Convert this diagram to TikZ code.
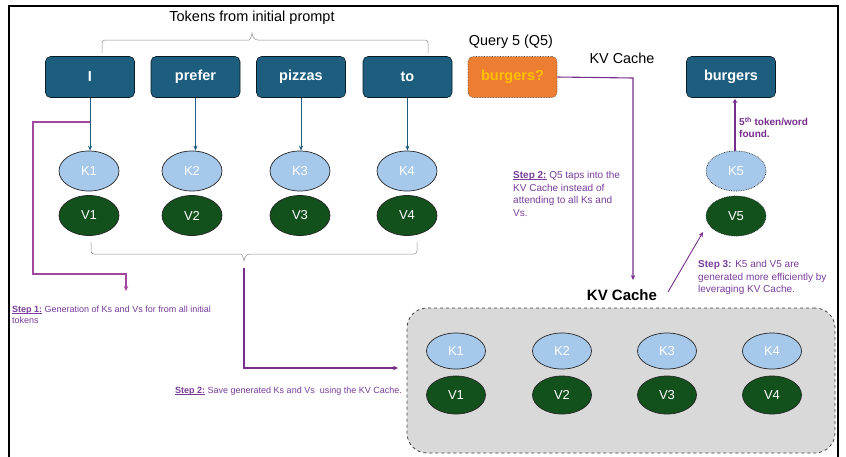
\documentclass[tikz,border=0pt]{standalone}
\usepackage{fontspec}
\setmainfont{Liberation Sans}
\usetikzlibrary{arrows.meta,shapes.geometric}
\definecolor{tokblue}{RGB}{29,94,126}
\definecolor{kblue}{RGB}{166,200,234}
\definecolor{vgreen}{RGB}{18,80,28}
\definecolor{qorange}{RGB}{237,125,49}
\definecolor{qyellow}{RGB}{255,192,0}
\definecolor{stepline}{RGB}{160,72,158}
\definecolor{flowpurple}{RGB}{118,46,140}
\definecolor{steptext}{RGB}{120,60,155}
\definecolor{cachegray}{RGB}{217,217,217}
\tikzset{
  token/.style={rectangle, rounded corners=5pt, fill=tokblue, draw=black!70!tokblue, line width=0.6pt,
    minimum width=89pt, minimum height=41pt, text=white, font=\bfseries\fontsize{14.5}{16}\selectfont},
  query/.style={token, fill=qorange, draw=black!70, densely dotted, text=qyellow},
  kkey/.style={ellipse, fill=kblue, draw=black!85, line width=0.7pt, minimum width=60pt, minimum height=40pt,
    inner sep=0pt, text=white, font=\fontsize{13}{15}\selectfont},
  vval/.style={kkey, fill=vgreen},
  ckey/.style={kkey, minimum width=59pt, minimum height=36pt},
  cval/.style={vval, minimum width=59pt, minimum height=38pt},
  tokarrow/.style={draw=tokblue, line width=0.9pt, -{Stealth[length=5pt,width=4pt]}},
  stepflow/.style={draw=flowpurple, line width=1.1pt, -{Stealth[length=5pt,width=4.5pt]}},
  steptxt/.style={anchor=north west, align=left, inner sep=0pt, text=steptext,
    font=\fontsize{9}{11}\selectfont},
  steptxtr/.style={steptxt, font=\fontsize{10}{12.7}\selectfont},
  bracegray/.style={draw=black!45, line width=0.5pt, rounded corners=3pt}
}
\newsavebox\steplabelbox
\newcommand{\steplabel}[1]{\sbox\steplabelbox{\textbf{#1}}\usebox\steplabelbox\llap{\rule[-1.3pt]{\wd\steplabelbox}{0.6pt}}}
\begin{document}
\begin{tikzpicture}[x=1pt,y=-1pt]
\useasboundingbox (0,0) rectangle (846,456);
% outer frame
\draw[line width=1.6pt] (9,460) -- (9,6) -- (838,6) -- (838,460);

% heading and the brace over the initial-prompt tokens
\node[font=\fontsize{14.5}{16}\selectfont] (head) at (252,18) {Tokens from initial prompt};
\coordinate (tb) at (252,33);
\draw[bracegray] (102,53) -- (102,40) -- (246,40) [sharp corners] to[out=0,in=-95] (tb)
  to[out=-85,in=180] (258,40) [rounded corners=3pt] -- (428,40) -- (428,53);

\node[token] (t1) at (90,77) {I};
\node[token] (t2) at (195.5,77) {prefer};
\node[token] (t3) at (301,77) {pizzas};
\node[token] (t4) at (407.5,77) {to};

% keys and values for the initial tokens
\node[kkey] (k1) at (89,171) {K1};
\node[kkey] (k2) at (192,171) {K2};
\node[kkey] (k3) at (300,171) {K3};
\node[kkey] (k4) at (407,171) {K4};
\node[vval] (v1) at (89,215.5) {V1};
\node[vval] (v2) at (192,215.5) {V2};
\node[vval] (v3) at (300,215.5) {V3};
\node[vval] (v4) at (407,215.5) {V4};

\foreach \i in {1,...,4} \draw[tokarrow] (t\i.south) -- (t\i.south |- k\i.north);

% brace under the values
\coordinate (bt) at (244,261);
\draw[bracegray] (91,242) -- (91,254) -- (238,254) [sharp corners] to[out=0,in=95] (bt)
  to[out=85,in=180] (250,254) [rounded corners=3pt] -- (417,254) -- (417,242);

% query token
\node[font=\fontsize{14.4}{16}\selectfont] (qlab) at (511,42) {Query 5 (Q5)};
\node[query] (q5) at (512.5,77) {burgers?};
\node[font=\fontsize{14.4}{16}\selectfont] (kvtop) at (622,58) {KV Cache};

% next predicted token
\node[token] (out) at (731,77) {burgers};
\node[kkey, densely dotted] (k5) at (736,171) {K5};
\node[vval, densely dotted] (v5) at (736,216) {V5};
\draw[draw=flowpurple, line width=2.2pt, -{Stealth[length=4pt,width=5pt]}] (k5.north -| 735,0) -- (735,99);
\node[steptxt, text=flowpurple, font=\bfseries\fontsize{10}{12}\selectfont] (found) at (739,117)
  {5\textsuperscript{th} token/word\\found.};

% KV cache
\node[font=\bfseries\fontsize{15}{17}\selectfont] (kvlab) at (622,295) {KV Cache};
\node[draw=black!75, dashed, line width=0.8pt, fill=cachegray, rounded corners=20pt,
  minimum width=428pt, minimum height=145pt] (cache) at (621,380.5) {};
\node[ckey] (ck1) at (456,351) {K1};
\node[ckey] (ck2) at (562,351) {K2};
\node[ckey] (ck3) at (667,351) {K3};
\node[ckey] (ck4) at (772,351) {K4};
\node[cval] (cv1) at (456,395) {V1};
\node[cval] (cv2) at (562,395) {V2};
\node[cval] (cv3) at (667,395) {V3};
\node[cval] (cv4) at (772,395) {V4};

% step 1: generation of keys and values
\coordinate (s1end) at (126,291);
\draw[draw=stepline, line width=1.1pt, -{Stealth[length=5pt,width=4.5pt]}]
  (t1.south |- 0,122) -- (33,122) -- (33,274) -- (s1end |- 0,274) -- (s1end);
\node[steptxt] (s1txt) at (12,306)
  {\steplabel{Step 1:} Generation of Ks and Vs for from all initial\\tokens};

% step 2: save to the cache
\coordinate (s2end) at (398,368);
\draw[stepflow] (bt |- 0,268) -- (bt |- 0,368) -- (s2end);
\node[steptxt] (s2txt) at (175,387)
  {\steplabel{Step 2:} Save generated Ks and Vs\ \ using the KV Cache.};

% step 2: query reads the cache
\coordinate (qturn) at (633,78);
\draw[stepflow] (q5.east) -- (qturn) -- (qturn |- 0,280);
\node[steptxtr] (s2qtxt) at (513,171)
  {\steplabel{Step 2:} Q5 taps into the\\KV Cache instead of\\attending to all Ks and\\Vs.};

% step 3: new key and value from the cache
\draw[stepflow, line width=0.9pt] (668,292) -- (703,232);
\node[steptxtr] (s3txt) at (698,260)
  {\textbf{Step 3:} K5 and V5 are\\generated more efficiently by\\leveraging KV Cache.};
\end{tikzpicture}
\end{document}
